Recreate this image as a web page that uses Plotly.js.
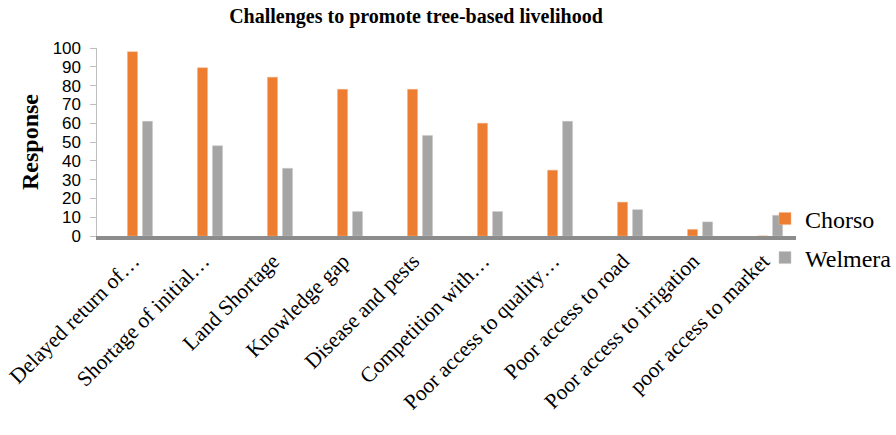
<!DOCTYPE html>
<html><head><meta charset="utf-8">
<script src="https://cdn.plot.ly/plotly-3.0.1.min.js"></script>
<style>html,body{margin:0;padding:0;background:#fff}</style>
</head><body><div id="chart" style="width:896px;height:435px"></div>
<script>
const categories = [
  "Delayed return of…",
  "Shortage of initial…",
  "Land Shortage",
  "Knowledge gap",
  "Disease and pests",
  "Competition with…",
  "Poor access to quality…",
  "Poor access to road",
  "Poor access to irrigation",
  "poor access to market"
];
const chorso = [98, 89.5, 84.5, 78, 78, 60, 35, 18, 3.5, 0];
const welmera = [61, 48, 36, 13, 53.5, 13, 61, 14, 7.5, 11];
const yTicks = [0,10,20,30,40,50,60,70,80,90,100];

const serif = "Liberation Serif, Times New Roman, serif";
const catIdx = categories.map((c, i) => i);
const traces = [
  {type:'bar', name:'Chorso', x:categories, y:chorso, marker:{color:'#ED7D31', line:{color:'#F4B183', width:0.5}}, legend:'legend'},
  {type:'bar', name:'Welmera', x:categories, y:welmera, marker:{color:'#A5A5A5', line:{color:'#C9C9C9', width:0.5}}, legend:'legend2'},
  // empty helper traces so the label-only axes are drawn
  {type:'scatter', mode:'markers', x:[], y:[], xaxis:'x2', yaxis:'y', showlegend:false, hoverinfo:'skip'},
  {type:'scatter', mode:'markers', x:[], y:[], xaxis:'x', yaxis:'y2', showlegend:false, hoverinfo:'skip'}
];
const xr = [-0.614, 9.37];
const labelShift = 0.1;
const layout = {
  width:896, height:435,
  margin:{l:77, r:100, t:48, b:199, autoexpand:false},
  paper_bgcolor:'#fff', plot_bgcolor:'#fff',
  barmode:'group', bargap:0.571, bargroupgap:0.333,
  title:{text:'<b>Challenges to promote tree-based livelihood</b>', font:{family:serif, size:20, color:'#000'}, x:416/896, xanchor:'center', xref:'container', y:1-16/435, yanchor:'middle'},
  xaxis:{type:'category', domain:[20/719, 1], range:xr, showline:true, linecolor:'#8c8c8c', linewidth:4, ticks:'', showticklabels:false, showgrid:false, zeroline:false, automargin:false},
  xaxis2:{overlaying:'x', anchor:'y', side:'bottom', type:'linear', range:[xr[0]+labelShift, xr[1]+labelShift], tickvals:catIdx, ticktext:categories, ticks:'outside', ticklen:3, tickcolor:'rgba(0,0,0,0)', showline:false, tickangle:-45, ticklabeloverflow:'allow', tickfont:{family:serif, size:21.5, color:'#000'}, showgrid:false, zeroline:false, automargin:false},
  yaxis:{range:[0,100], tickvals:yTicks, showticklabels:false, showline:true, linecolor:'#bfbfbf', linewidth:1, ticks:'outside', ticklen:6, tickcolor:'#bfbfbf', showgrid:false, zeroline:false, automargin:false},
  yaxis2:{overlaying:'y', anchor:'free', position:4/719, side:'left', range:[0,100], tickvals:yTicks, ticktext:yTicks.map(String), showline:false, ticks:'', tickfont:{family:'Liberation Sans, Arial, sans-serif', size:17, color:'#000'}, showgrid:false, zeroline:false, automargin:false,
    title:{text:'<b>Response</b>', font:{family:serif, size:24, color:'#000'}, standoff:6}},
  showlegend:true,
  legend:{xref:'container', yref:'container', x:765/896, xanchor:'left', y:1-219/435, yanchor:'middle', font:{family:serif, size:24, color:'#000'}, bgcolor:'rgba(0,0,0,0)'},
  legend2:{xref:'container', yref:'container', x:765/896, xanchor:'left', y:1-258/435, yanchor:'middle', font:{family:serif, size:24, color:'#000'}, bgcolor:'rgba(0,0,0,0)'}
};
Plotly.newPlot('chart', traces, layout, {displayModeBar:false, staticPlot:true});
</script></body></html>
